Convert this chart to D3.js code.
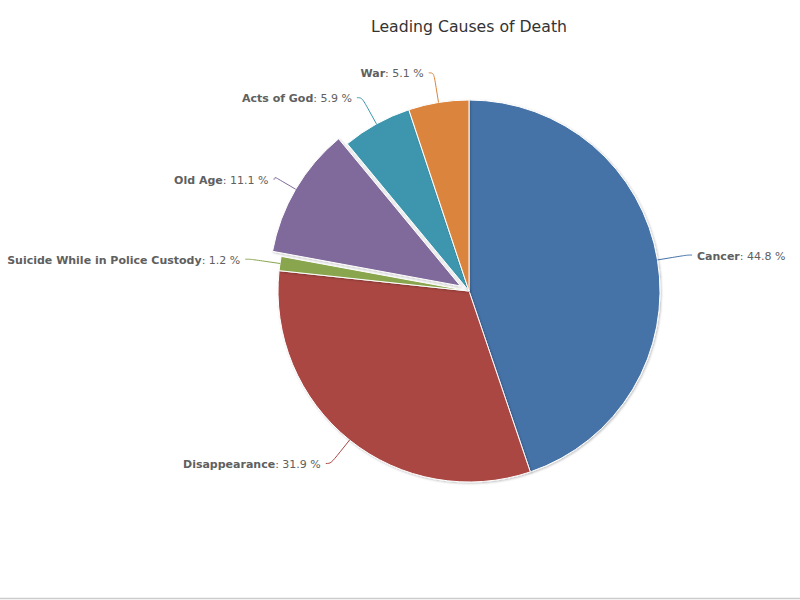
<!DOCTYPE html>
<html>
<head>
<meta charset="utf-8">
<script src="https://cdn.jsdelivr.net/npm/d3@7"></script>
<style>
  body { margin: 0; background: #fff; }
  svg { display: block; }
</style>
</head>
<body>
<script>
// slice data, clockwise from 12 o'clock
var causes = ["Cancer", "Disappearance", "Suicide While in Police Custody", "Old Age", "Acts of God", "War"];
var shares = [44.8, 31.9, 1.2, 11.1, 5.9, 5.1];
var colors = ["#4572A7", "#AA4643", "#89A54E", "#80699B", "#3D96AE", "#DB843D"];
var sliced = ["Old Age"];

var width = 800, height = 600;
var cx = 469, cy = 291, r = 191;
var labelDist = 30, slicedOffset = 10, connectorOffset = 15;

var svg = d3.select("body").append("svg")
  .attr("width", width)
  .attr("height", height);

var defs = svg.append("defs");
var f = defs.append("filter").attr("id", "shadow")
  .attr("x", "-10%").attr("y", "-10%").attr("width", "120%").attr("height", "120%");
f.append("feDropShadow")
  .attr("dx", 1).attr("dy", 1)
  .attr("stdDeviation", 1.2)
  .attr("flood-color", "#000")
  .attr("flood-opacity", 0.25);

// title
svg.append("text")
  .attr("x", cx)
  .attr("y", 32)
  .attr("text-anchor", "middle")
  .style("font-family", "'DejaVu Sans', Verdana, sans-serif")
  .style("font-size", "15.7px")
  .style("fill", "#333")
  .text("Leading Causes of Death");

// bottom border
svg.append("line")
  .attr("x1", 0).attr("x2", width)
  .attr("y1", 598.5).attr("y2", 598.5)
  .attr("stroke", "#ccc")
  .attr("stroke-width", 1.5);

var data = causes.map(function(c, i) {
  return { name: c, y: shares[i], color: colors[i], sliced: sliced.indexOf(c) >= 0 };
});

var pie = d3.pie()
  .sort(null)
  .value(function(d) { return d.y; });

var arc = d3.arc()
  .innerRadius(0)
  .outerRadius(r);

var arcs = pie(data);

function offsetOf(d) {
  if (!d.data.sliced) return [0, 0];
  var a = (d.startAngle + d.endAngle) / 2;
  return [Math.sin(a) * slicedOffset, -Math.cos(a) * slicedOffset];
}

var g = svg.append("g")
  .attr("transform", "translate(" + cx + "," + cy + ")");

g.selectAll("path.slice")
  .data(arcs)
  .enter()
  .append("path")
    .attr("class", "slice")
    .attr("d", arc)
    .attr("transform", function(d) {
      var o = offsetOf(d);
      return "translate(" + o[0] + "," + o[1] + ")";
    })
    .attr("fill", function(d) { return d.data.color; })
    .attr("stroke", "#fff")
    .attr("stroke-width", 1)
    .attr("stroke-linejoin", "round")
    .attr("filter", "url(#shadow)");

// data labels with soft connectors
var R = r + labelDist;
arcs.forEach(function(d) {
  var a = (d.startAngle + d.endAngle) / 2;
  var o = offsetOf(d);
  var left = Math.sin(a) < 0;
  var ly = -Math.cos(a) * R;
  var lx = (left ? -1 : 1) * Math.sqrt(R * R - ly * ly);
  var bx = Math.sin(a) * r + o[0], by = -Math.cos(a) * r + o[1];
  var sx = Math.sin(a) * (r + connectorOffset) + o[0], sy = -Math.cos(a) * (r + connectorOffset) + o[1];

  var p = d3.path();
  p.moveTo(lx + (left ? -5 : 5), ly);
  p.bezierCurveTo(lx, ly, 2 * sx - bx, 2 * sy - by, sx, sy);
  p.lineTo(bx, by);

  g.append("path")
    .attr("d", p.toString())
    .attr("fill", "none")
    .attr("stroke", d.data.color)
    .attr("stroke-width", 1);

  var t = g.append("text")
    .attr("x", lx + (left ? -10 : 10))
    .attr("y", ly + 4.5)
    .attr("text-anchor", left ? "end" : "start")
    .style("font-family", "'DejaVu Sans', Verdana, sans-serif")
    .style("font-size", "11px")
    .style("fill", "#606060");
  t.append("tspan")
    .style("font-weight", "bold")
    .text(d.data.name);
  t.append("tspan")
    .text(": " + d.data.y.toFixed(1) + " %");
});
</script>
</body>
</html>
